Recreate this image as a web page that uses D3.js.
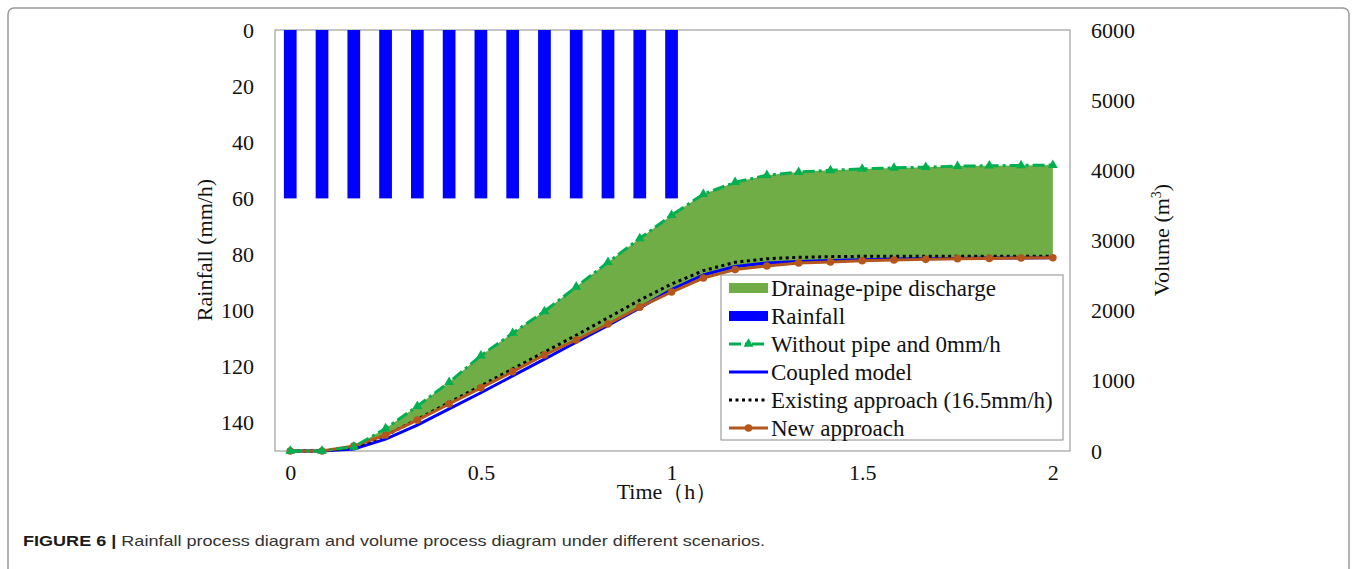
<!DOCTYPE html>
<html>
<head>
<meta charset="utf-8">
<script src="https://cdn.jsdelivr.net/npm/d3@7"></script>
<style>
  html, body { margin: 0; padding: 0; background: #fff; }
  svg { display: block; }
  .serif { font-family: "Liberation Serif", "Times New Roman", serif; fill: #111; }
</style>
</head>
<body>
<svg id="chart" width="1357" height="569"></svg>
<script>
// Time steps (minutes), converted to hours for the x scale
const minutes = [0, 5, 10, 15, 20, 25, 30, 35, 40, 45, 50, 55, 60,
                 65, 70, 75, 80, 85, 90, 95, 100, 105, 110, 115, 120];
// Rainfall intensity (mm/h) during the first hour
const rainMinutes = [0, 5, 10, 15, 20, 25, 30, 35, 40, 45, 50, 55, 60];
const rainfall = [60, 60, 60, 60, 60, 60, 60, 60, 60, 60, 60, 60, 60];
// Accumulated volume (m3) for each scenario
const withoutPipe = [0, 0, 60, 320, 640, 980, 1360, 1680, 1990, 2340, 2690, 3030, 3360,
                     3660, 3830, 3930, 3975, 4000, 4020, 4035, 4045, 4060, 4065, 4070, 4075];
const coupledModel = [0, 0, 30, 170, 370, 600, 830, 1070, 1310, 1550, 1790, 2040, 2300,
                      2510, 2630, 2680, 2700, 2715, 2725, 2735, 2740, 2745, 2750, 2752, 2755];
const existingApproach = [0, 0, 50, 220, 450, 690, 930, 1170, 1410, 1650, 1900, 2150, 2380,
                          2570, 2690, 2740, 2760, 2770, 2775, 2775, 2775, 2775, 2775, 2775, 2775];
const newApproach = [0, 0, 70, 228, 440, 670, 900, 1130, 1368, 1582, 1810, 2050, 2266,
                     2465, 2585, 2636, 2679, 2693, 2712, 2722, 2731, 2741, 2745, 2750, 2755];
// Axis ticks
const xTicks = [0, 0.5, 1, 1.5, 2];
const xTickLabels = ["0", "0.5", "1", "1.5", "2"];
const rainTicks = [0, 20, 40, 60, 80, 100, 120, 140];
const volumeTicks = [0, 1000, 2000, 3000, 4000, 5000, 6000];
const legendLabels = ["Drainage-pipe discharge", "Rainfall", "Without pipe and 0mm/h",
                      "Coupled model", "Existing approach (16.5mm/h)", "New approach"];

const hours = minutes.map(m => m / 60);
const rainHours = rainMinutes.map(m => m / 60);

const svg = d3.select("#chart");

// Figure frame
svg.append("rect")
  .attr("x", 8).attr("y", 8).attr("width", 1341).attr("height", 640)
  .attr("rx", 6).attr("fill", "none").attr("stroke", "#9a9a9a").attr("stroke-width", 1.5);

const plot = { left: 275, right: 1070, top: 30, bottom: 451 };

const x = d3.scaleLinear().domain([-0.04, 2.045]).range([plot.left, plot.right]);
const yRain = d3.scaleLinear().domain([0, 150]).range([plot.top, plot.bottom]);
const yVol = d3.scaleLinear().domain([0, 6000]).range([plot.bottom, plot.top]);

const C = {
  area: "#70AD47",
  green: "#00B050",
  blue: "#0000FF",
  brown: "#B5561C",
  black: "#000000"
};

// Plot frame
svg.append("rect")
  .attr("x", plot.left).attr("y", plot.top)
  .attr("width", plot.right - plot.left).attr("height", plot.bottom - plot.top)
  .attr("fill", "none").attr("stroke", "#8c8c8c").attr("stroke-width", 1);

// Drainage-pipe discharge band: between "without pipe" and "new approach"
const band = d3.area()
  .x((d, i) => x(hours[i]))
  .y0((d, i) => yVol(newApproach[i]))
  .y1(d => yVol(d));
svg.append("path").datum(withoutPipe).attr("d", band).attr("fill", C.area);

// Rainfall bars hanging from the top (reversed left axis)
const step = x(5 / 60) - x(0);
const barW = step * 0.4;
svg.append("g").selectAll("rect").data(rainfall).join("rect")
  .attr("x", (d, i) => x(rainHours[i]) - barW / 2)
  .attr("y", yRain(0))
  .attr("width", barW)
  .attr("height", d => yRain(d) - yRain(0))
  .attr("fill", C.blue);

const line = d3.line().x((d, i) => x(hours[i])).y(d => yVol(d));

// Coupled model
svg.append("path").datum(coupledModel).attr("d", line)
  .attr("fill", "none").attr("stroke", C.blue).attr("stroke-width", 3);

// Existing approach (dotted)
svg.append("path").datum(existingApproach).attr("d", line)
  .attr("fill", "none").attr("stroke", C.black).attr("stroke-width", 3)
  .attr("stroke-dasharray", "3,3.5");

// New approach with circle markers
svg.append("path").datum(newApproach).attr("d", line)
  .attr("fill", "none").attr("stroke", C.brown).attr("stroke-width", 3);
svg.append("g").selectAll("circle").data(newApproach).join("circle")
  .attr("cx", (d, i) => x(hours[i])).attr("cy", d => yVol(d))
  .attr("r", 3.8).attr("fill", C.brown);

// Without pipe: dash-dot with triangle markers
svg.append("path").datum(withoutPipe).attr("d", line)
  .attr("fill", "none").attr("stroke", C.green).attr("stroke-width", 3)
  .attr("stroke-dasharray", "12,4,3,4");
const tri = d3.symbol().type(d3.symbolTriangle).size(42);
svg.append("g").selectAll("path").data(withoutPipe).join("path")
  .attr("d", tri)
  .attr("transform", (d, i) => `translate(${x(hours[i])},${yVol(d)})`)
  .attr("fill", C.green);

// Axes (labels only, no tick marks)
const fontSize = 22;
const xAxis = d3.axisBottom(x).tickValues(xTicks)
  .tickFormat((d, i) => xTickLabels[i]).tickSize(0).tickPadding(13);
const gx = svg.append("g").attr("transform", `translate(0,${plot.bottom})`).call(xAxis);

const gl = svg.append("g").attr("transform", `translate(${plot.left},0)`)
  .call(d3.axisLeft(yRain).tickValues(rainTicks).tickFormat(d3.format("d"))
    .tickSize(0).tickPadding(21));

const gr = svg.append("g").attr("transform", `translate(${plot.right},0)`)
  .call(d3.axisRight(yVol).tickValues(volumeTicks).tickFormat(d3.format("d"))
    .tickSize(0).tickPadding(21));

[gx, gl, gr].forEach(g => {
  g.select(".domain").remove();
  g.selectAll("text").attr("class", "serif").attr("font-size", fontSize)
    .attr("fill", "#111");
});

// Axis titles
svg.append("text").attr("class", "serif").attr("font-size", fontSize)
  .attr("text-anchor", "middle")
  .attr("transform", "translate(212,250) rotate(-90)")
  .text("Rainfall (mm/h)");

const vt = svg.append("text").attr("class", "serif").attr("font-size", fontSize)
  .attr("text-anchor", "middle")
  .attr("transform", "translate(1169,240) rotate(-90)");
vt.append("tspan").text("Volume (m");
vt.append("tspan").attr("font-size", 14).attr("dy", -8).text("3");
vt.append("tspan").attr("dy", 8).text(")");

svg.append("text").attr("class", "serif").attr("font-size", fontSize)
  .attr("text-anchor", "middle").attr("x", 667).attr("y", 499)
  .text("Time（h）");

// Legend
const legendFont = 23;
const lg = svg.append("g");
lg.append("rect").attr("x", 721).attr("y", 275).attr("width", 342).attr("height", 165)
  .attr("fill", "#fff").attr("stroke", "#8c8c8c").attr("stroke-width", 1);
const rowY = i => 288 + i * 28;
const sx0 = 729, sx1 = 768;
legendLabels.forEach((lab, i) => {
  const yy = rowY(i);
  if (i === 0 || i === 1) {
    lg.append("rect").attr("x", sx0).attr("y", yy - 5).attr("width", sx1 - sx0).attr("height", 10)
      .attr("fill", i === 0 ? C.area : C.blue);
  } else if (i === 2) {
    lg.append("line").attr("x1", sx0).attr("x2", sx1).attr("y1", yy).attr("y2", yy)
      .attr("stroke", C.green).attr("stroke-width", 3).attr("stroke-dasharray", "12,4,3,4");
    lg.append("path").attr("d", tri).attr("transform", `translate(${(sx0 + sx1) / 2},${yy})`)
      .attr("fill", C.green);
  } else if (i === 3) {
    lg.append("line").attr("x1", sx0).attr("x2", sx1).attr("y1", yy).attr("y2", yy)
      .attr("stroke", C.blue).attr("stroke-width", 3);
  } else if (i === 4) {
    lg.append("line").attr("x1", sx0).attr("x2", sx1).attr("y1", yy).attr("y2", yy)
      .attr("stroke", C.black).attr("stroke-width", 3).attr("stroke-dasharray", "3,3.5");
  } else {
    lg.append("line").attr("x1", sx0).attr("x2", sx1).attr("y1", yy).attr("y2", yy)
      .attr("stroke", C.brown).attr("stroke-width", 3);
    lg.append("circle").attr("cx", (sx0 + sx1) / 2).attr("cy", yy).attr("r", 3.8)
      .attr("fill", C.brown);
  }
  lg.append("text").attr("class", "serif").attr("font-size", legendFont)
    .attr("x", 771).attr("y", yy).attr("dominant-baseline", "central")
    .text(lab);
});

// Caption
const cap = svg.append("text")
  .attr("x", 23).attr("y", 546)
  .attr("font-family", "'Liberation Sans', Arial, sans-serif")
  .attr("font-size", 15).attr("fill", "#333")
  .attr("textLength", 742).attr("lengthAdjust", "spacingAndGlyphs");
cap.append("tspan").attr("font-weight", "bold").attr("fill", "#1a1a1a").text("FIGURE 6 | ");
cap.append("tspan").text("Rainfall process diagram and volume process diagram under different scenarios.");
</script>
</body>
</html>
